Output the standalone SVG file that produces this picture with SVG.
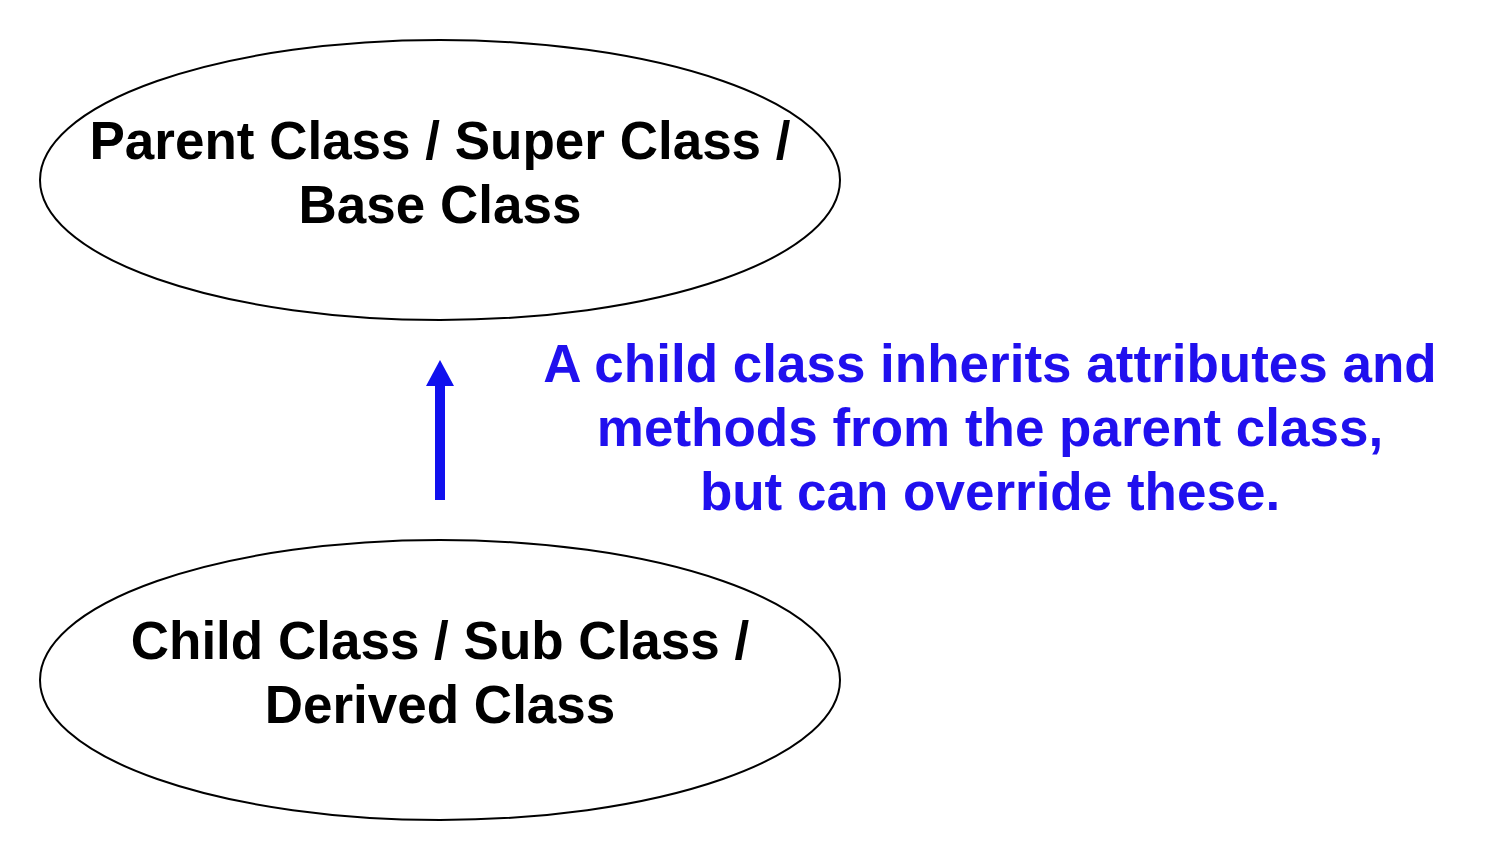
<svg xmlns="http://www.w3.org/2000/svg" width="1500" height="860" viewBox="0 0 1500 860">
<style>
.node ellipse{fill:#fff;stroke:#000;stroke-width:2}
.lbl{font-family:"Liberation Sans",Arial,sans-serif;font-weight:bold;font-size:53px;fill:#000;text-anchor:middle}
.note{font-family:"Liberation Sans",Arial,sans-serif;font-weight:bold;font-size:53px;fill:#2010ee;text-anchor:middle}
</style>
<rect width="1500" height="860" fill="#fff"/>
<g id="parent" class="node">
<ellipse cx="440" cy="180" rx="400" ry="140"/>
<text class="lbl" x="440" y="159">Parent Class / Super Class /</text>
<text class="lbl" x="440" y="223">Base Class</text>
</g>
<g id="child" class="node">
<ellipse cx="440" cy="680" rx="400" ry="140"/>
<text class="lbl" x="440" y="659">Child Class / Sub Class /</text>
<text class="lbl" x="440" y="723">Derived Class</text>
</g>
<g id="connectors">
<rect x="435" y="382" width="10" height="118" fill="#1010ee"/>
<polygon points="440,360 454,386 426,386" fill="#1010ee"/>
</g>
<g id="note">
<text class="note" x="990" y="382">A child class inherits attributes and</text>
<text class="note" x="990" y="446">methods from the parent class,</text>
<text class="note" x="990" y="510">but can override these.</text>
</g>
</svg>
